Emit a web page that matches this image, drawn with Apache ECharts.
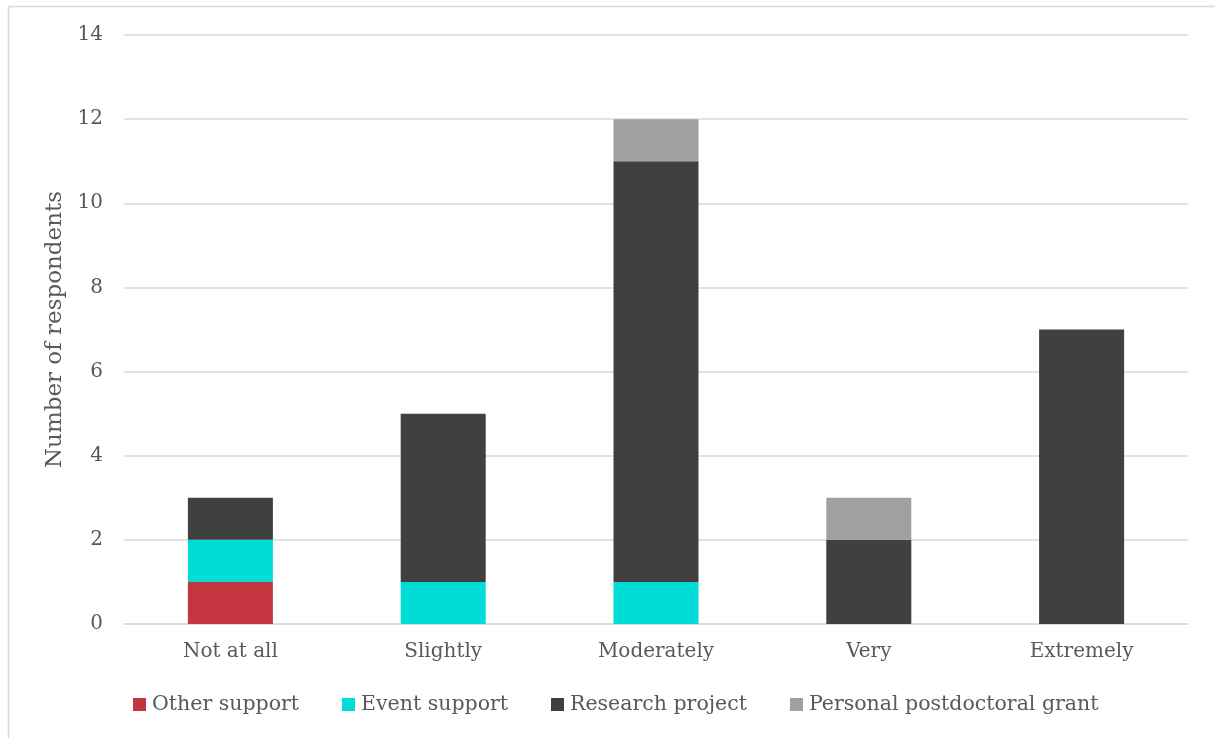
<!DOCTYPE html>
<html>
<head>
<meta charset="utf-8">
<script src="https://cdn.jsdelivr.net/npm/echarts@6/dist/echarts.min.js"></script>
<style>html,body{margin:0;padding:0;background:#fff}#c{width:1215px;height:738px}</style>
</head>
<body>
<div id="c"></div>
<script>
const categories = ['Not at all', 'Slightly', 'Moderately', 'Very', 'Extremely'];
const otherSupport = [1, 0, 0, 0, 0];
const eventSupport = [1, 1, 1, 0, 0];
const researchProject = [1, 4, 10, 2, 7];
const personalGrant = [0, 0, 1, 1, 0];
const seriesNames = ['Other support', 'Event support', 'Research project', 'Personal postdoctoral grant'];
const yTicks = { min: 0, max: 14, interval: 2 };

const FONT = 'DejaVu Serif';
const TXT = '#595959';
const colors = ['#c4363f', '#00dcd6', '#404040', '#a0a0a0'];
const dataSets = [otherSupport, eventSupport, researchProject, personalGrant];

const chart = echarts.init(document.getElementById('c'), null, { renderer: 'canvas' });
chart.setOption({
  animation: false,
  backgroundColor: '#ffffff',
  textStyle: { fontFamily: FONT },
  graphic: [{
    type: 'rect', left: 6, top: 4, silent: true,
    shape: { width: 1400, height: 900 },
    style: { fill: 'none', stroke: '#d9d9d9', lineWidth: 1.5 }
  }],
  grid: { left: 124, right: 27, top: 35, bottom: 114, containLabel: false },
  legend: {
    bottom: 18, left: 128,
    itemWidth: 13, itemHeight: 13, itemGap: 43,
    icon: 'rect',
    textStyle: { fontFamily: FONT, fontSize: 20.5, color: TXT, padding: [0, 0, 0, 1] },
    data: seriesNames
  },
  xAxis: {
    type: 'category', data: categories,
    axisLine: { show: true, lineStyle: { color: '#d9d9d9', width: 1.5 } },
    axisTick: { show: false },
    axisLabel: { fontFamily: FONT, fontSize: 20, color: TXT, margin: 18 }
  },
  yAxis: {
    type: 'value', min: yTicks.min, max: yTicks.max, interval: yTicks.interval,
    name: 'Number of respondents', nameLocation: 'middle', nameGap: 55, nameRotate: 90,
    nameTextStyle: { fontFamily: FONT, fontSize: 23, color: TXT },
    axisLine: { show: false }, axisTick: { show: false },
    axisLabel: { fontFamily: FONT, fontSize: 20, color: TXT, margin: 21 },
    splitLine: { lineStyle: { color: '#d9d9d9', width: 1.5 } }
  },
  series: dataSets.map((d, i) => ({
    name: seriesNames[i], type: 'bar', stack: 'total',
    barWidth: 85,
    itemStyle: { color: colors[i] },
    data: d
  }))
});
</script>
</body>
</html>
